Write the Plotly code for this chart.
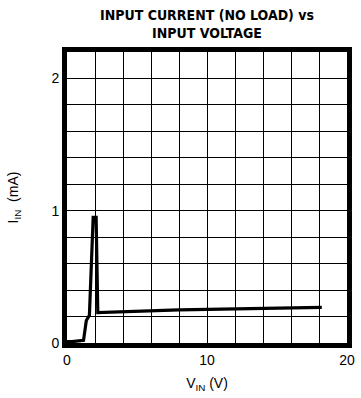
import plotly.graph_objects as go

# Input current vs input voltage, no load
v_in = [0.0, 0.35, 1.18, 1.38, 1.6, 1.87, 2.08, 2.2, 8.0, 18.2]
i_in = [0.01, 0.01, 0.02, 0.17, 0.21, 0.95, 0.95, 0.23, 0.25, 0.27]

x_ticks = [0, 10, 20]
y_ticks = [0, 1, 2]

fig = go.Figure()
fig.add_trace(go.Scatter(
    x=v_in, y=i_in, mode="lines",
    line=dict(color="black", width=3.2),
    hoverinfo="skip",
))

tick_font = dict(family="Liberation Sans, Arial, sans-serif", size=14, color="black")
grid_w = 1.3

fig.update_layout(
    width=361, height=398,
    margin=dict(l=67, r=6, t=52, b=55),
    paper_bgcolor="white", plot_bgcolor="white",
    showlegend=False,
    xaxis=dict(
        range=[0, 20], tickvals=x_ticks, ticks="", ticklen=0,
        tickfont=tick_font,
        showgrid=True, gridcolor="black", gridwidth=grid_w,
        minor=dict(dtick=2, tick0=0, showgrid=True, gridcolor="black", gridwidth=grid_w),
        showline=True, linecolor="black", linewidth=5, mirror=True,
        zeroline=False,
        title=dict(text="V<sub>IN</sub> (V)", font=tick_font, standoff=13),
    ),
    yaxis=dict(
        range=[0, 2.2], tickvals=y_ticks, ticks="", ticklen=0,
        tickfont=tick_font,
        showgrid=True, gridcolor="black", gridwidth=grid_w,
        minor=dict(dtick=0.2, tick0=0, showgrid=True, gridcolor="black", gridwidth=grid_w),
        showline=True, linecolor="black", linewidth=5, mirror=True,
        zeroline=False,
        title=dict(text="I<sub>IN</sub>  (mA)", font=tick_font, standoff=31),
    ),
    annotations=[dict(
        text="<b>INPUT CURRENT (NO LOAD) vs<br>INPUT VOLTAGE</b>",
        xref="paper", yref="paper", x=0.5, y=1.0, yshift=9,
        xanchor="center", yanchor="bottom", showarrow=False,
        font=dict(family="DejaVu Sans Condensed, Liberation Sans Narrow, sans-serif",
                  size=14, color="black"),
    )],
)

fig.write_html("out.html")
